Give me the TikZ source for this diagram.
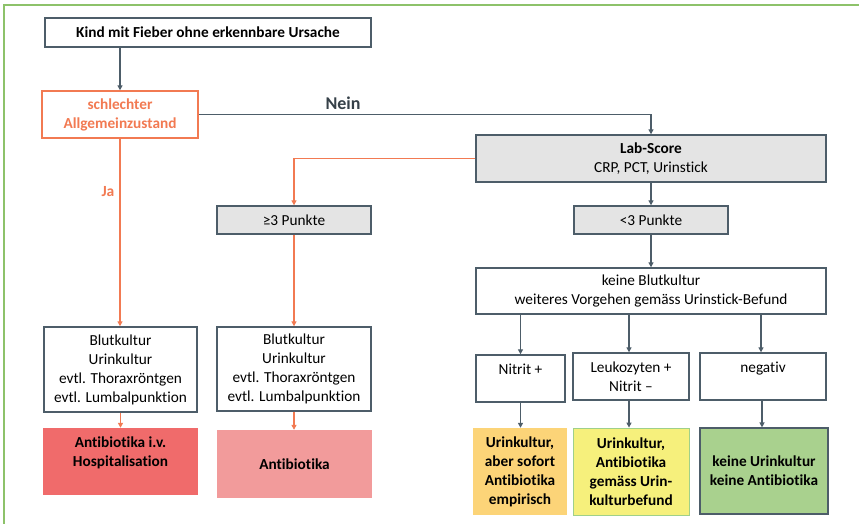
\documentclass[tikz,border=0pt]{standalone}
\usepackage{fontspec}
\setmainfont{Carlito}[Ligatures={NoCommon}]
\usetikzlibrary{arrows.meta}
\definecolor{lgray}{HTML}{4D5D69}
\definecolor{orng}{HTML}{F27A52}
\definecolor{boxgray}{HTML}{E4E4E4}
\definecolor{redbox}{HTML}{F06B6B}
\definecolor{pinkbox}{HTML}{F29B9B}
\definecolor{ambox}{HTML}{FCD478}
\definecolor{yelbox}{HTML}{F6F07C}
\definecolor{yelborder}{HTML}{9FD08A}
\definecolor{grnbox}{HTML}{A9D18E}
\definecolor{frame}{HTML}{8DC26A}
\newcommand{\fs}{\fontsize{15.3}{19}\selectfont}
\tikzset{
  fl/.style={font=\fs, align=center},
  bfl/.style={font=\fs\bfseries, align=center},
  bx/.style={fl, draw=lgray, line width=1.4pt, inner sep=0pt, minimum width=#1},
  bx/.default=100pt,
  txt/.style={fl, inner sep=0pt},
  arr/.style={draw=lgray, line width=1.3pt, -{Triangle[width=5pt,length=5pt]}},
  oarr/.style={draw=orng, line width=1.3pt, -{Triangle[width=5pt,length=5pt]}},
}
\begin{document}
\begin{tikzpicture}[x=1pt,y=-1pt]
\useasboundingbox (0,0) rectangle (859,524);
\fill[white] (0,0) rectangle (859,524);
\draw[frame, line width=1.6pt] (4,524) -- (4,5) -- (859,5);

% nodes
\node[bx=326pt, minimum height=29pt, bfl] (top) at (208,32.5) {Kind mit Fieber ohne erkennbare Ursache};
\node[bx=156pt, draw=orng, minimum height=47pt, text=orng, bfl] (schl) at (120,114.5) {schlechter\\Allgemeinzustand};
\node[bx=350pt, fill=boxgray, minimum height=47pt] (lab) at (651,158.5) {\textbf{Lab-Score}\\CRP, PCT, Urinstick};
\node[bx=154pt, fill=boxgray, minimum height=28pt] (p3) at (294,220) {≥3 Punkte};
\node[bx=154pt, fill=boxgray, minimum height=28pt] (pl3) at (651,220) {<3 Punkte};
\node[bx=350pt, minimum height=46pt] (kb) at (651,291) {keine Blutkultur\\weiteres Vorgehen gemäss Urinstick-Befund};
\node[bx=153pt, minimum height=85pt] (bk1) at (120.5,369.5) {Blutkultur\\Urinkultur\\evtl. Thoraxröntgen\\evtl. Lumbalpunktion};
\node[bx=154pt, minimum height=84pt] (bk2) at (294,369) {Blutkultur\\Urinkultur\\evtl. Thoraxröntgen\\evtl. Lumbalpunktion};
\node[fill=redbox, inner sep=0pt, minimum width=155pt, minimum height=67pt] (ab1) at (120.5,461.5) {};
\node[txt, bfl] (ab1t) at (120.5,453) {Antibiotika i.v.\\Hospitalisation};
\node[fill=pinkbox, inner sep=0pt, minimum width=155pt, minimum height=68pt, bfl] (ab2) at (294.5,464) {Antibiotika};
\node[bx=89pt, minimum height=47pt] (n1) at (520.5,378.5) {};
\node[txt] (n1t) at (520.5,369) {Nitrit +};
\node[bx=116pt, minimum height=47pt] (n2) at (631,376.5) {Leukozyten +\\Nitrit –};
\node[bx=126pt, minimum height=47pt] (n3) at (763,376.5) {};
\node[txt] (n3t) at (763,369) {negativ};
\node[fill=ambox, inner sep=0pt, minimum width=94pt, minimum height=87pt, bfl] (r1) at (520,471.5) {Urinkultur,\\aber sofort\\Antibiotika\\empirisch};
\node[fill=yelbox, draw=yelborder, line width=0.8pt, inner sep=0pt, minimum width=116pt, minimum height=87pt, bfl] (r2) at (631,471.5) {Urinkultur,\\Antibiotika\\gemäss Urin-\\kulturbefund};
\node[fill=grnbox, draw=lgray, line width=1.2pt, inner sep=0pt, minimum width=128pt, minimum height=86pt, bfl] (r3) at (764,471) {keine Urinkultur\\keine Antibiotika};

% labels
\node[txt, font=\fontsize{18}{20}\selectfont\bfseries, text=lgray!70!black] (nein) at (343,103) {Nein};
\node[txt, font=\fontsize{15.5}{18}\selectfont\bfseries, text=orng] (ja) at (108,192) {Ja};

% connectors
\draw[arr] (top.south -| schl.north) -- (schl.north);
\draw[arr] (schl.east) -| (lab.north);
\draw[oarr] (lab.west) -| (p3.north);
\draw[oarr] (schl.south) -- (bk1.north -| schl.south);
\draw[oarr] (p3.south) -- (bk2.north);
\draw[oarr] (bk1.south) -- (ab1.north -| bk1.south);
\draw[oarr] (bk2.south) -- (ab2.north -| bk2.south);
\draw[arr] (lab.south) -- (pl3.north);
\draw[arr] (pl3.south) -- (kb.north);
\draw[arr] (kb.south -| n1.north) -- (n1.north);
\draw[arr] ([xshift=-2pt]kb.south -| n2.north) -- ([xshift=-2pt]n2.north);
\draw[arr] ([xshift=-2pt]kb.south -| n3.north) -- ([xshift=-2pt]n3.north);
\draw[arr] (n1.south) -- (r1.north -| n1.south);
\draw[arr] ([xshift=-2pt]n2.south) -- ([xshift=-2pt]r2.north -| n2.south);
\draw[arr] ([xshift=-1pt]n3.south) -- ([xshift=-1pt]r3.north -| n3.south);
\end{tikzpicture}
\end{document}
